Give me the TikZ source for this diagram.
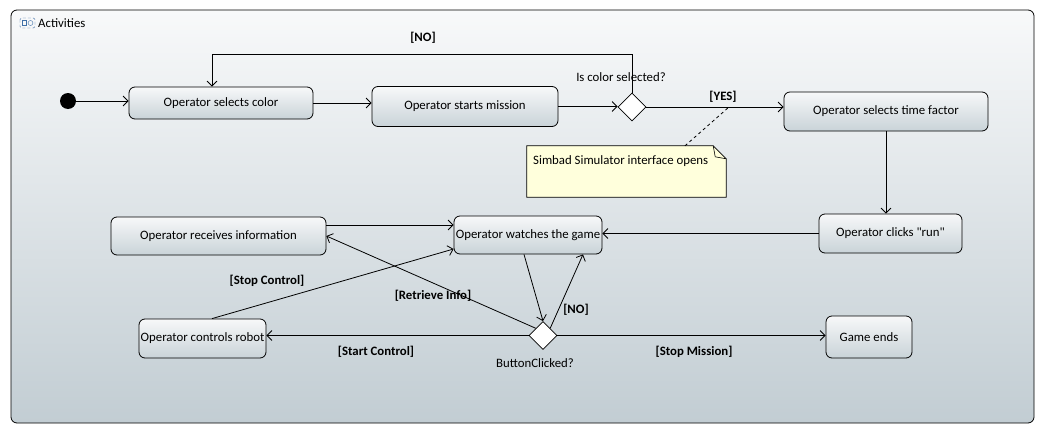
\documentclass[tikz,border=0pt]{standalone}
\usepackage{fontspec}
\setmainfont{Carlito}[Ligatures=TeXOff]
\usetikzlibrary{arrows.meta,shapes.geometric}

\definecolor{acttop}{HTML}{F7F8F9}
\definecolor{actbot}{HTML}{C9D3D8}
\definecolor{frametop}{HTML}{F8F9FA}
\definecolor{framebot}{HTML}{C2CDD3}
\definecolor{notefill}{HTML}{FFFFDC}
\definecolor{iconblue}{HTML}{3F6FA8}

\begin{document}
\begin{tikzpicture}[x=1pt,y=-1pt,>={Straight Barb[length=5pt,width=10pt]},
	font=\fontsize{12.8}{15}\selectfont]
	\tikzstyle{act}=[draw, line width=0.8pt, rounded corners=6pt, top color=acttop, bottom color=actbot, inner sep=0pt]
	\tikzstyle{dec}=[draw, line width=0.8pt, diamond, fill=white, minimum width=28pt, minimum height=28pt, inner sep=0pt]
	\tikzstyle{guard}=[font=\fontsize{12.8}{15}\selectfont\bfseries, inner sep=1pt]
	\tikzstyle{flow}=[->, line width=0.8pt]

	\useasboundingbox (0,0) rectangle (1045,434);

	% frame
	\draw[line width=0.8pt, rounded corners=6pt, top color=frametop, bottom color=framebot] (11,10) rectangle (1034,423);
	\draw[iconblue, densely dashed, rounded corners=1.5pt] (20,18) rectangle (35,28);
	\draw[iconblue] (22,20.5) rectangle (26.5,25.5);
	\draw[iconblue] (30.5,23) circle (2.5);
	\node[anchor=west, inner sep=0pt] (title) at (38,23) {Activities};

	% activities
	\node[circle, fill=black, minimum size=16pt, inner sep=0pt] (init) at (68,101) {};
	\node[act, minimum width=184pt, minimum height=32pt] (color) at (221,103) {Operator selects color};
	\node[act, minimum width=186pt, minimum height=40pt] (mission) at (465,106.5) {Operator starts mission};
	\node[dec] (dec1) at (632,107) {};
	\node[act, minimum width=204pt, minimum height=39pt] (timef) at (886,111.5) {Operator selects time factor};
	\node[act, minimum width=143pt, minimum height=39pt] (run) at (890.5,233.5) {Operator clicks "run"};
	\node[act, minimum width=148pt, minimum height=38pt] (watch) at (528,235) {Operator watches the game};
	\node[act, minimum width=215pt, minimum height=38pt] (recv) at (218.5,236) {Operator receives information};
	\node[act, minimum width=127pt, minimum height=39pt] (robot) at (202.5,338.5) {Operator controls robot};
	\node[dec] (dec2) at (543,335.5) {};
	\node[act, minimum width=86pt, minimum height=42pt] (ends) at (869,337) {Game ends};

	% note
	\node[minimum width=199pt, minimum height=51pt, inner sep=0pt] (note) at (626.5,171.5) {};
	\draw[line width=0.8pt, fill=notefill] (note.south west) -- (note.north west) -- ([xshift=-13pt]note.north east)
		-- ([yshift=-13pt]note.north east) -- (note.south east) -- cycle;
	\draw[line width=0.6pt] ([xshift=-13pt]note.north east) -- ([xshift=-11pt,yshift=-11pt]note.north east) -- ([yshift=-13pt]note.north east);
	\node[anchor=west, inner sep=0pt] (notetext) at (533,161) {Simbad Simulator interface opens};
	\coordinate (yesmark) at (729,107);
	\draw[dashed, line width=0.8pt] ([xshift=58.5pt]note.north) -- (yesmark);

	% decision labels
	\node (q1) at (621,77) {Is color selected?};
	\node (q2) at (535,363) {ButtonClicked?};

	% connectors
	\draw[flow] (init) -- (color.west |- init);
	\foreach \from/\to in {color.east/mission.west,mission.east/dec1.west,dec1.east/timef.west,run.west/watch.east,dec2.west/robot.east,dec2.east/ends.west}
	\draw[flow] (\from) -- (\from -| \to);
	\draw[flow] (timef.south) -- (timef.south |- run.north);
	\draw[flow] (dec1.north) -- ++(0,-38) -| ([xshift=-9pt]color.north);
	\draw[flow] ([yshift=11pt]recv.east) -- ([yshift=11pt]recv.east -| watch.west);
	\draw[flow] ([xshift=-4pt]watch.south) -- (dec2.north);
	\draw[flow] (dec2.north east) -- ([xshift=55pt]watch.south);
	\draw[flow] (dec2.north west) -- (recv.east);
	\draw[flow] ([xshift=9.5pt]robot.north) -- ([yshift=-14pt]watch.west);

	% guards
	\node[guard] (gno1) at (423,38) {[NO]};
	\node[guard] (gyes) at (723,97) {[YES]};
	\node[guard] (gstop) at (267,281) {[Stop Control]};
	\node[guard] (gret) at (433,296) {[Retrieve Info]};
	\node[guard] (gno2) at (576,310) {[NO]};
	\node[guard] (gstart) at (376,352) {[Start Control]};
	\node[guard] (gmis) at (694,352) {[Stop Mission]};
\end{tikzpicture}
\end{document}
